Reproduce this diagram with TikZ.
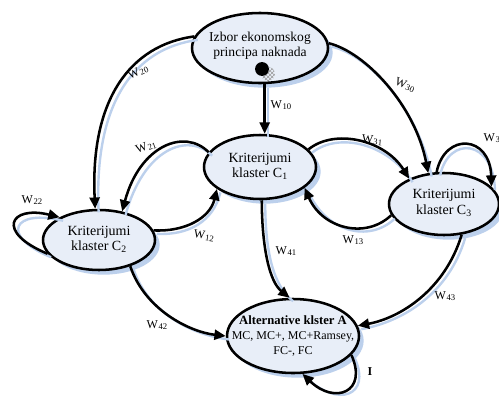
\documentclass[tikz,border=0pt]{standalone}
\usepackage{fontspec}
\setmainfont{Liberation Serif}
\usetikzlibrary{shapes.geometric,arrows.meta,shadows,patterns}
\definecolor{nodefill}{HTML}{E8EEF8}
\definecolor{shadowblue}{HTML}{BCD0EC}
\newcommand{\wlab}[1]{{\fontsize{9}{9}\selectfont W\kern0.4pt\raisebox{-0.25ex}{\fontsize{6.5}{6.5}\selectfont #1}}}
\begin{document}
\begin{tikzpicture}[x=0.75pt,y=-0.75pt,
  cluster/.style={ellipse,draw,line width=1.9pt,fill=nodefill,inner sep=0pt,
    drop shadow={shadow xshift=3.5pt,shadow yshift=-3.5pt,fill=shadowblue,opacity=1}},
  ctext/.style={align=center,font=\fontsize{10.5}{11.3}\selectfont,inner sep=0pt},
  conn/.style={line width=1.9pt,-{Triangle[length=8.5pt,width=7.5pt]},
    preaction={draw=shadowblue,line width=1.8pt,-,transform canvas={xshift=2.6pt,yshift=-2.6pt}}},
  wl/.style={inner sep=0pt}
]
\useasboundingbox (0,0) rectangle (499,397);

% nodes
\node[cluster,minimum width=102pt,minimum height=52.5pt] (top) at (260,48) {};
\node[ctext,font=\fontsize{10.2}{11}\selectfont] (toptext) at (260,46) {Izbor ekonomskog\\principa naknada};
\fill[pattern=crosshatch,pattern color=gray!80] (268,74) circle[radius=5.2pt];
\fill[black] (262,69) circle[radius=5.2pt];

\node[cluster,minimum width=84pt,minimum height=48pt] (c1) at (260,167) {};
\node[ctext] (c1text) at (260,166) {Kriterijumi\\klaster C\textsubscript{1}};

\node[cluster,minimum width=84pt,minimum height=45pt] (c2) at (99,240) {};
\node[ctext] (c2text) at (99,239) {Kriterijumi\\klaster C\textsubscript{2}};

\node[cluster,minimum width=82.5pt,minimum height=46.5pt] (c3) at (444,204) {};
\node[ctext] (c3text) at (444,203) {Kriterijumi\\klaster C\textsubscript{3}};

\node[cluster,minimum width=99pt,minimum height=55.5pt] (a) at (293,336) {};
\node[ctext,font=\fontsize{9}{11.2}\selectfont] (atext) at (293,336) {{\fontsize{9.5}{11.2}\selectfont\bfseries Alternative klster A}\\MC, MC+, MC+Ramsey,\\FC-, FC};

% connectors
\draw[conn] (top.170) .. controls (130,45) and (90,100) .. (c2.97);
\draw[conn] (top.4) .. controls (365,52) and (415,105) .. (c3.117);
\draw[conn] ([xshift=3.5pt]top.south) -- ([xshift=3.5pt]c1.north);
\draw[conn] (c1.164) .. controls (185,128) and (140,145) .. (c2.51);
\draw[conn] (c2.10) .. controls (185,232) and (210,218) .. (c1.207);
\draw[conn] (c1.20) .. controls (335,128) and (385,140) .. (c3.144);
\draw[conn] (c3.192) .. controls (365,240) and (322,228) .. (c1.-25);
\draw[conn] (c3.103) .. controls (445,132) and (490,135) .. (c3.20);
\draw[conn] (c2.195) .. controls (-5,232) and (10,205) .. (c2.150);
\draw[conn] (c1.-87) .. controls (262,250) and (270,282) .. (a.95);
\draw[conn] (c2.-40) .. controls (145,310) and (190,332) .. (a.180);
\draw[conn] (c3.-60) .. controls (445,290) and (400,318) .. (a.9);
\draw[conn] (a.-18) .. controls (368,392) and (335,405) .. (a.-76);

% labels
\node[wl,rotate=25] (l20) at (138,72) {\wlab{20}};
\node[wl] (l10) at (281,105) {\wlab{10}};
\node[wl,rotate=-22] (l30) at (405,85) {\wlab{30}};
\node[wl,rotate=20] (l21) at (146,147) {\wlab{21}};
\node[wl,rotate=-5] (l31) at (372,140) {\wlab{31}};
\node[wl] (l33) at (494,138) {\wlab{33}};
\node[wl] (l22) at (32,200) {\wlab{22}};
\node[wl,rotate=-8] (l12) at (204,236) {\wlab{12}};
\node[wl] (l13) at (353,240) {\wlab{13}};
\node[wl] (l41) at (286,251) {\wlab{41}};
\node[wl] (l42) at (157,325) {\wlab{42}};
\node[wl] (l43) at (445,296) {\wlab{43}};
\node[wl] (li) at (370,372) {\fontsize{9}{9}\selectfont\bfseries I};
\end{tikzpicture}
\end{document}
